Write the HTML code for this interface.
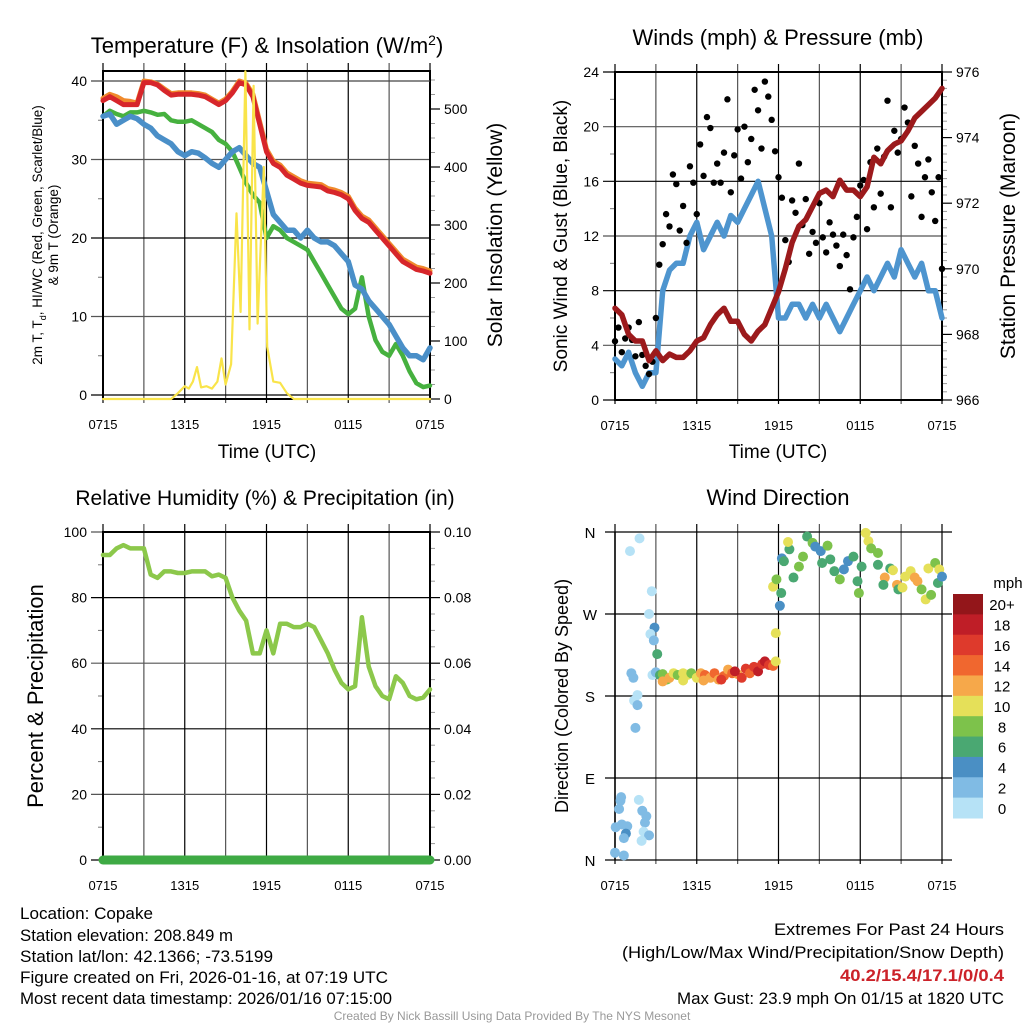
<!DOCTYPE html>
<html><head><meta charset="utf-8"><style>
body{margin:0;background:#fff}
svg{display:block;font-family:"Liberation Sans",sans-serif}
</style></head><body>
<svg id="fig" width="1024" height="1024" viewBox="0 0 1024 1024" xmlns="http://www.w3.org/2000/svg">
<g id="g"></g>
</svg>
<script>
// ---------- data ----------
const halfHours = [0,0.5,1,1.5,2,2.5,3,3.5,4,4.5,5,5.5,6,6.5,7,7.5,8,8.5,9,9.5,10,10.5,11,11.5,12,12.5,13,13.5,14,14.5,15,15.5,16,16.5,17,17.5,18,18.5,19,19.5,20,20.5,21,21.5,22,22.5,23,23.5,24];
const tempRed = [37.5,38,37.5,37,37,37,39.8,39.8,39.5,38.8,38.2,38.3,38.3,38.3,38.2,38,37.5,37,37.5,38.5,39.8,39.5,38,34.5,31,29.5,29,28,27.5,27,26.7,26.6,26.5,26,25.8,25.5,25,23.5,22.5,22,21,20,19,18,17,16.5,16,15.8,15.5];
const tempOrange = [37.8,38.3,38,37.5,37.4,37.2,40,39.9,39.6,39,38.4,38.5,38.5,38.5,38.4,38.2,37.7,37.2,37.7,38.7,40,39.7,38.3,34.8,31.3,29.8,29.3,28.3,27.8,27.3,27,26.9,26.8,26.3,26.1,25.8,25.3,23.8,22.8,22.3,21.3,20.3,19.3,18.3,17.3,16.8,16.3,16.1,15.8];
const dewBlue = [35.5,35.8,34.5,35,35.5,35.2,34.5,34,33,32.5,32,31,30.5,31,30.8,30.2,29.5,29,30,31,31.5,30.5,29.5,29,26,23,22,21,21,20,21,20,19.5,19.5,19,18,17,14,13.5,12,11,10,9,7.5,6,5,5,4.5,6];
const tempGreen = [35.5,36.2,35.8,35.5,36,36,36.2,36,35.7,35.8,35,34.8,34.8,35,34.5,34,33.5,32.5,32,31,29,27,25.5,24.5,20,21.5,21,20,19.5,19,18.5,17,15.5,14,12.5,11,10.3,11,15,10,7,5.5,5,6.5,5,3,1.5,1,1.2];
const solarTimes = [0,5,5.5,6,6.3,6.6,6.9,7.2,7.6,8,8.4,8.7,9,9.4,9.8,10.1,10.45,10.75,11.05,11.35,11.8,12.05,12.5,13,13.5,14,24];
const solarVals  = [0,0,10,22,18,30,55,20,22,18,30,70,25,60,320,150,565,120,540,130,400,90,30,28,10,0,0];
const windBlue = [3,2.5,3.5,2,1,2,2,8,9.5,10,10,12,13,11,12,13,12,13.5,13,14,15,16,14,12,6,6,7,7,6,7,6,7,6,5,6,7,8,9,8,9,10,9,11,10,9,10,8,8,6];
const pressure = [968.8,968.6,968,967.8,967.8,967.2,967.5,967.2,967.4,967.3,967.3,967.5,967.8,967.9,968.3,968.6,968.8,968.4,968.4,968,967.8,968.1,968.3,968.8,969.3,970,970.8,971.3,971.5,971.9,972.3,972.4,972.2,972.7,972.4,972.4,972.2,972.5,973.4,973.2,973.6,973.8,973.9,974.2,974.6,974.8,975,975.2,975.5];
const gusts = [4.3,5.3,3.5,4.5, 5.3,4.4,3.2,5.7, 3.3,2.5,1.9,2.8, 6,9.9,11.4,13.6, 12.7,16.5,15.8,12.4, 14.2,11.5,17.1,15.9, 13.6,18.7,16.4,20.7, 19.9,15.9,17.3,15.9, 18.1,22,15.2,17.9, 19.8,16.2,20,17.4, 19.1,22.7,21.2,18.4, 23.3,22.2,20.5,18.2, 16.3,14.8,11.7,10.1, 14.6,13.7,17.3,12.8, 14.7,10.7,12.3,11.5, 14.4,11.9,10.8,13, 12.1,11.3,9.8,12.1, 10.6,8.1,11.9,13.4, 15.7,16.1,12.5,17.4, 14.1,18.4,15.1,17.8, 21.9,14.1,19.7,18.1, 19.1,21.4,20.3,14.9, 18.6,17.3,13.4,16.3, 17.6,15.2,13.1,16.3, 9.6];
const rhVals = [93,93,95,96,95,95,95,87,86,88,88,87.5,87.5,88,88,88,86.5,87,86,80,76,73,63,63,70,63,72,72,71,71,72,71,67,63,58,54,52,53,74,59,53,50,49,56,54,50,49,49.5,52];
const precipVals = [0,0];
const precipTimes = [0,24];
const dirTimes = [1.1,1.8,2.7,2.5,2.9,2.6,2.85,3.1,1.2,1.35,1.65,1.4,1.65,1.5,2.75,3,0.45,0.4,0.3,0.05,0.5,0.9,0.8,0.65,0,0.65,1.75,2,2.3,2.2,2.1,2.5,1.95,
 3.3,3.5,3.8,4,4.3,4.6,5,5.3,5.6,6,6.3,6.6,7,7.3,7.6,8,8.3,8.6,9,9.3,9.6,9.9,10.2,10.5,10.8,11,11.3,11.6,11.8,11.8,3.5,5,6.5,7.8,8.8,
 12.1,12.2,11.6,11.85,12.25,12.4,12.8,12.7,13.1,13.5,13.8,14.1,14.5,14.7,15.1,15.2,15.6,15.8,16.1,16.5,16.8,17.1,17.5,17.8,17.9,18.1,18.4,18.6,18.8,19.3,19.3,19.8,19.7,20.2,20.4,20.7,20.8,21.1,21.3,21.7,22,22.2,22.5,22.8,23,23.2,23.5,23.7,23.8,24];
const dirVals = [339,353,295,270,255,248,241,226,205,200,181,175,170,145,203,206,69,65,56,36,39,37,29,24,8,5,66,54,48,41,31,27,21,
 203,204,198,200,205,203,205,203,205,200,205,203,200,205,198,202,209,205,204,200,210,205,212,207,215,218,214,213,218,249,196,197,197,198,207,
 279,293,300,308,331,328,341,349,310,322,333,355,348,344,339,326,345,330,317,308,319,328,333,306,293,322,359,350,342,337,324,310,302,320,318,302,297,299,311,317,310,306,297,286,320,291,326,304,319,311];
const dirSpeeds = [0,0,0,0,4,0,2,6,2,2,0,0,2,2,0,2,2,2,2,2,2,2,4,2,2,2,0,2,2,2,0,2,0,
 6,8,8,12,10,8,10,10,8,10,12,14,12,14,12,14,12,14,12,16,16,14,16,18,16,18,16,14,10,10,12,10,12,16,18,
 4,6,10,8,4,6,6,10,6,8,8,6,8,4,4,6,8,6,6,8,4,4,6,6,8,6,10,10,8,8,6,12,6,6,10,12,6,10,10,10,12,12,8,10,10,8,8,6,10,4];
const cbLabels = ['20+','18','16','14','12','10','8','6','4','2','0'];
const cbColors = ['#93161a','#bf1e27','#de3a2c','#f0672f','#f6a84a','#e5e059','#7dc24b','#4aa872','#4a8fc4','#80bbe4','#b6e2f6'];

// ---------- helpers ----------
const NS='http://www.w3.org/2000/svg';
const root=document.getElementById('g');
function el(tag,attrs,parent,text){const e=document.createElementNS(NS,tag);for(const k in attrs)e.setAttribute(k,attrs[k]);if(text!==undefined)e.textContent=text;(parent||root).appendChild(e);return e;}
function speedColor(s){let i=Math.min(10,Math.floor(s/2));return cbColors[10-i];}
function xs(x0,x1){return t=>x0+(x1-x0)*t/24;}
function lin(v0,v1,p0,p1){return v=>p0+(p1-p0)*(v-v0)/(v1-v0);}

function panel(name,x0,x1,y0,y1,ticksL,labL,yL,ticksR,labR,yR,minorL,minorR){
  const g=el('g',{},root);
  
  
  const X=xs(x0,x1);
  for(let h=0;h<=24;h+=3){
    const l=el('line',{x1:X(h),x2:X(h),y1:y0-8,y2:y1+4,stroke:(h%6===0?'#000':'#555'),'stroke-width':1.2},g);
    
    
  }
  ticksL.forEach((v,i)=>{
    const y=yL(v);
    const l=el('line',{x1:x0-12,x2:x1,y1:y,y2:y,stroke:i%2?'#555':'#000','stroke-width':1.2},g);
    
    
    const t=el('text',{x:x0-16,y:y+5,'text-anchor':'end','font-size':14},g,labL[i]);
    
    
  });
  minorL.forEach(v=>{el('line',{x1:x0-5,x2:x0,y1:yL(v),y2:yL(v),stroke:'#777'},g);});
  ticksR.forEach((v,i)=>{
    const y=yR(v);
    el('line',{x1:x1,x2:x1+10,y1:y,y2:y,stroke:'#000','stroke-width':1.2},g);
    const t=el('text',{x:x1+14,y:y+5,'font-size':14},g,labR[i]);
    
    
  });
  minorR.forEach(v=>{el('line',{x1:x1,x2:x1+5,y1:yR(v),y2:yR(v),stroke:'#999'},g);});
  el('rect',{x:x0,y:y0,width:x1-x0,height:y1-y0,fill:'none',stroke:'#000','stroke-width':2},g);
  ['0715','1315','1915','0115','0715'].forEach((s,i)=>{
    const t=el('text',{x:X(i*6),y:y1+30,'text-anchor':'middle','font-size':13},g,s);
    
    
  });
  return {g,X};
}
function path(g,xsArr,ysArr,X,Y,stroke,w,name){
  let d='';xsArr.forEach((t,i)=>{d+=(i?'L':'M')+X(t).toFixed(1)+','+Y(ysArr[i]).toFixed(1);});
  const p=el('path',{d,fill:'none',stroke,'stroke-width':w,'stroke-linejoin':'round','stroke-linecap':'round'},g);
  
  
  return p;
}
function txt(x,y,s,size,attrs,name){const t=el('text',Object.assign({x,y,'font-size':size},attrs||{}),root,s);
  
  
  return t;}

// ---------- Panel 1: temperature ----------
{
  const x0=103,x1=430,y0=71,y1=399;
  const yL=lin(0,40,395,81), yR=lin(0,500,399,109);
  const minR=[];for(let v=25;v<=550;v+=25)if(v%100)minR.push(v);
  const minL=[5,15,25,35];
  const p=panel('temperature-panel',x0,x1,y0,y1,[0,10,20,30,40],['0','10','20','30','40'],yL,[0,100,200,300,400,500],['0','100','200','300','400','500'],yR,minL,minR);
  el('line',{x1:x0-12,x2:x1,y1:y0+10,y2:y0+10,stroke:'#555'},p.g);
  path(p.g,halfHours,tempOrange,p.X,yL,'#f08a2c',5,'temp-9m-orange-line');
  path(p.g,halfHours,tempRed,p.X,yL,'#d7262b',5,'temp-2m-red-line');
  path(p.g,halfHours,tempGreen,p.X,yL,'#46b13f',4.5,'dewpoint-green-line');
  path(p.g,halfHours,dewBlue,p.X,yL,'#4a8fc8',5.5,'windchill-blue-line');
  path(p.g,solarTimes,solarVals,p.X,yR,'#f9e44a',2.2,'solar-insolation-yellow-line');
  txt(267,53,'',22,{'text-anchor':'middle'},'temperature-title').innerHTML='Temperature (F) &amp; Insolation (W/m<tspan dy="-8" font-size="14">2</tspan><tspan dy="8">)</tspan>';
  txt(267,458,'Time (UTC)',19,{'text-anchor':'middle'},'x-axis-title');
  txt(0,0,'Solar Insolation (Yellow)',21,{'text-anchor':'middle',transform:'translate(502,235) rotate(-90)'},'right-y-axis-title');
  const a=txt(0,0,'',13.5,{'text-anchor':'middle',transform:'translate(42,235) rotate(-90)'},'left-y-axis-title');
  a.innerHTML='2m T, T<tspan dy="4" font-size="9">d</tspan><tspan dy="-4">, HI/WC (Red, Green, Scarlet/Blue)</tspan>';
  txt(0,0,'& 9m T (Orange)',13.5,{'text-anchor':'middle',transform:'translate(58,235) rotate(-90)'},'left-y-axis-title-line2');
}
// ---------- Panel 2: winds ----------
{
  const x0=615,x1=942,y0=72,y1=400;
  const yL=lin(0,24,400,72), yR=lin(966,976,400,72);
  const minL=[2,6,10,14,18,22],minR=[];for(let v=966.25;v<976;v+=0.25)if(Math.abs(v-Math.round(v/2)*2)>0.01)minR.push(v);
  const p=panel('winds-panel',x0,x1,y0,y1,[0,4,8,12,16,20,24],['0','4','8','12','16','20','24'],yL,[966,968,970,972,974,976],['966','968','970','972','974','976'],yR,minL,minR);
  path(p.g,halfHours,windBlue,p.X,yL,'#4e95cf',5.5,'sonic-wind-blue-line');
  gusts.forEach((v,i)=>{const t=i*24/(gusts.length-1);
    const c=el('circle',{cx:p.X(t),cy:yL(v),r:3.2,fill:'#000'},p.g);
    
    });
  path(p.g,halfHours,pressure,p.X,yR,'#9c1a1c',5.5,'station-pressure-maroon-line');
  txt(778,45,'Winds (mph) & Pressure (mb)',22,{'text-anchor':'middle'},'winds-title');
  txt(778,458,'Time (UTC)',19,{'text-anchor':'middle'},'x-axis-title');
  txt(0,0,'Sonic Wind & Gust (Blue, Black)',19,{'text-anchor':'middle',transform:'translate(567,236) rotate(-90)'},'left-y-axis-title');
  txt(0,0,'Station Pressure (Maroon)',21,{'text-anchor':'middle',transform:'translate(1015,236) rotate(-90)'},'right-y-axis-title');
}
// ---------- Panel 3: humidity ----------
{
  const x0=103,x1=430,y0=532,y1=860;
  const yL=lin(0,100,860,532), yR=lin(0,0.1,860,532);
  const minR=[];for(let v=0.005;v<0.1;v+=0.005)if(Math.abs(v*100-Math.round(v*50)*2)>0.01)minR.push(v);
  const p=panel('humidity-panel',x0,x1,y0,y1,[0,20,40,60,80,100],['0','20','40','60','80','100'],yL,[0,0.02,0.04,0.06,0.08,0.1],['0.00','0.02','0.04','0.06','0.08','0.10'],yR,[10,30,50,70,90],minR);
  path(p.g,halfHours,rhVals,p.X,yL,'#8cc84b',4.5,'relative-humidity-line');
  path(p.g,precipTimes,precipVals,p.X,yR,'#3eaa44',9,'precipitation-line');
  txt(265,505,'Relative Humidity (%) & Precipitation (in)',21,{'text-anchor':'middle'},'humidity-title');
  txt(0,0,'Percent & Precipitation',22,{'text-anchor':'middle',transform:'translate(43,696) rotate(-90)'},'left-y-axis-title');
}
// ---------- Panel 4: direction ----------
{
  const x0=615,x1=942,y0=532,y1=860;
  const yL=lin(0,360,860,532);
  const X=xs(x0,x1);
  const g=el('g',{},root);
  
  
  for(let h=0;h<=24;h+=3)el('line',{x1:X(h),x2:X(h),y1:y0-8,y2:y1+4,stroke:h%6===0?'#000':'#555','stroke-width':1.2},g);
  ['N','E','S','W','N'].forEach((s,i)=>{const y=yL(i*90);
    el('line',{x1:x0-10,x2:x1+10,y1:y,y2:y,stroke:'#000','stroke-width':1.2},g);
    const t=el('text',{x:x0-25,y:y+6,'text-anchor':'middle','font-size':15},g,s);
    
    });
  el('line',{x1:x0,x2:x0,y1:y0,y2:y1,stroke:'#000','stroke-width':1.5},g);
  ['0715','1315','1915','0115','0715'].forEach((s,i)=>{const t=el('text',{x:X(i*6),y:y1+30,'text-anchor':'middle','font-size':13},g,s);
    
    });
  dirTimes.forEach((t,i)=>{const c=el('circle',{cx:X(t),cy:yL(dirVals[i]),r:5,fill:speedColor(dirSpeeds[i])},g);
    
    });
  txt(778,505,'Wind Direction',22,{'text-anchor':'middle'},'wind-direction-title');
  txt(0,0,'Direction (Colored By Speed)',18,{'text-anchor':'middle',transform:'translate(568,696) rotate(-90)'},'left-y-axis-title');
  const cb=el('g',{},root);
  
  
  const h=(818-594)/cbColors.length;
  cbColors.forEach((c,i)=>{el('rect',{x:953,y:594+i*h,width:30,height:h+0.5,fill:c},cb);
    const t=el('text',{x:1002,y:594+i*h+h/2+6,'text-anchor':'middle','font-size':15},cb,cbLabels[i]);
    
    });
  txt(1008,588,'mph',15,{'text-anchor':'middle'},'colorbar-title');
}
// ---------- footer text ----------
const L=[['Location: Copake',919,133],['Station elevation: 208.849 m',941,213],['Station lat/lon: 42.1366; -73.5199',962,253],['Figure created on Fri, 2026-01-16, at 07:19 UTC',983,368],['Most recent data timestamp: 2026/01/16 07:15:00',1004,372]];
L.forEach(a=>txt(20,a[1],a[0],16.5,{textLength:a[2],lengthAdjust:'spacingAndGlyphs'},'station-info-line'));
txt(1004,935,'Extremes For Past 24 Hours',17,{'text-anchor':'end',textLength:230,lengthAdjust:'spacingAndGlyphs'},'extremes-heading');
txt(1004,958,'(High/Low/Max Wind/Precipitation/Snow Depth)',17,{'text-anchor':'end',textLength:382,lengthAdjust:'spacingAndGlyphs'},'extremes-legend');
txt(1004,981,'40.2/15.4/17.1/0/0.4',17,{'text-anchor':'end','font-weight':'bold',fill:'#cc2229',textLength:164,lengthAdjust:'spacingAndGlyphs'},'extremes-values');
txt(1004,1004,'Max Gust: 23.9 mph On 01/15 at 1820 UTC',16.5,{'text-anchor':'end',textLength:327,lengthAdjust:'spacingAndGlyphs'},'max-gust-text');
txt(512,1020,'Created By Nick Bassill Using Data Provided By The NYS Mesonet',12,{'text-anchor':'middle',fill:'#999'},'credit-text');
</script>
</body></html>
